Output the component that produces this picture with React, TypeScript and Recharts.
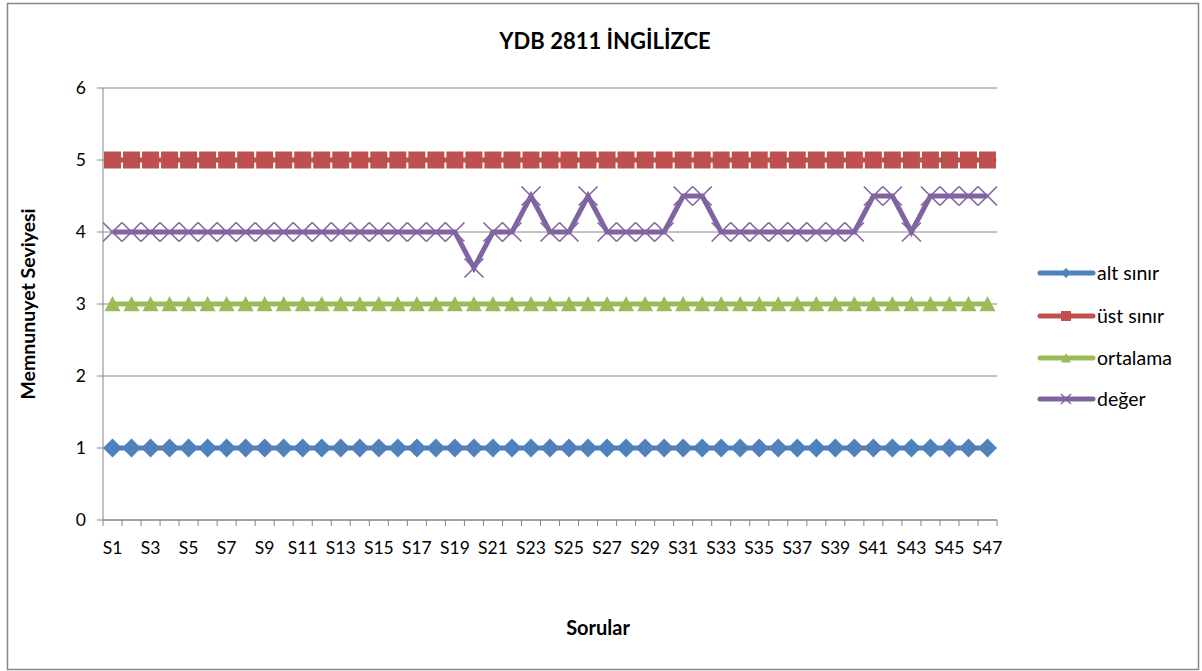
import React from 'react';
import { LineChart, Line, XAxis, YAxis, CartesianGrid } from 'recharts';

const questions = [
  'S1', 'S2', 'S3', 'S4', 'S5', 'S6', 'S7', 'S8', 'S9', 'S10',
  'S11', 'S12', 'S13', 'S14', 'S15', 'S16', 'S17', 'S18', 'S19', 'S20',
  'S21', 'S22', 'S23', 'S24', 'S25', 'S26', 'S27', 'S28', 'S29', 'S30',
  'S31', 'S32', 'S33', 'S34', 'S35', 'S36', 'S37', 'S38', 'S39', 'S40',
  'S41', 'S42', 'S43', 'S44', 'S45', 'S46', 'S47',
];

const altSinir = [
  1, 1, 1, 1, 1, 1, 1, 1, 1, 1, 1, 1, 1, 1, 1, 1, 1, 1, 1, 1, 1, 1, 1, 1,
  1, 1, 1, 1, 1, 1, 1, 1, 1, 1, 1, 1, 1, 1, 1, 1, 1, 1, 1, 1, 1, 1, 1,
];

const ustSinir = [
  5, 5, 5, 5, 5, 5, 5, 5, 5, 5, 5, 5, 5, 5, 5, 5, 5, 5, 5, 5, 5, 5, 5, 5,
  5, 5, 5, 5, 5, 5, 5, 5, 5, 5, 5, 5, 5, 5, 5, 5, 5, 5, 5, 5, 5, 5, 5,
];

const ortalama = [
  3, 3, 3, 3, 3, 3, 3, 3, 3, 3, 3, 3, 3, 3, 3, 3, 3, 3, 3, 3, 3, 3, 3, 3,
  3, 3, 3, 3, 3, 3, 3, 3, 3, 3, 3, 3, 3, 3, 3, 3, 3, 3, 3, 3, 3, 3, 3,
];

const deger = [
  4, 4, 4, 4, 4, 4, 4, 4, 4, 4, 4, 4, 4, 4, 4, 4, 4, 4, 4, 3.5,
  4, 4, 4.5, 4, 4, 4.5, 4, 4, 4, 4,
  4.5, 4.5, 4, 4, 4, 4, 4, 4, 4, 4,
  4.5, 4.5, 4, 4.5, 4.5, 4.5, 4.5,
];

const yTicks = [0, 1, 2, 3, 4, 5, 6];

const BLUE = '#4F81BD';
const RED = '#C0504D';
const GREEN = '#9BBB59';
const PURPLE = '#8064A2';
const AXIS = '#868686';
const FONT = 'Lato, "Open Sans", sans-serif';

const chartData = questions.map((name, i) => ({
  name,
  alt: altSinir[i],
  ust: ustSinir[i],
  ort: ortalama[i],
  deger: deger[i],
}));

const Diamond = ({ cx, cy, r = 9.5 }: any) => (
  <polygon points={`${cx},${cy - r} ${cx + r},${cy} ${cx},${cy + r} ${cx - r},${cy}`} fill={BLUE} />
);
const Square = ({ cx, cy, s = 8.5 }: any) => (
  <rect x={cx - s} y={cy - s} width={s * 2} height={s * 2} fill={RED} />
);
const Triangle = ({ cx, cy, s = 8 }: any) => (
  <polygon points={`${cx},${cy - s} ${cx + s},${cy + s * 0.9} ${cx - s},${cy + s * 0.9}`} fill={GREEN} />
);
const Cross = ({ cx, cy, s = 9.5, w = 1.6 }: any) => (
  <g stroke={PURPLE} strokeWidth={w}>
    <line x1={cx - s} y1={cy - s} x2={cx + s} y2={cy + s} />
    <line x1={cx - s} y1={cy + s} x2={cx + s} y2={cy - s} />
  </g>
);

const XTick = (props: any) => {
  const { x, y, payload, index } = props;
  const i = index ?? payload.index;
  const half = 9.5;
  return (
    <g>
      <line x1={x - half} y1={y} x2={x - half} y2={y + 6} stroke={AXIS} />
      {i === questions.length - 1 && <line x1={x + half} y1={y} x2={x + half} y2={y + 6} stroke={AXIS} />}
      {i % 2 === 0 && (
        <text x={x} y={y + 34} textAnchor="middle" fontSize={17.5} fill="#000" fontFamily={FONT}>
          {payload.value}
        </text>
      )}
    </g>
  );
};

const legendItems = [
  { label: 'alt sınır', color: BLUE, y: 273, mark: (cx: number, cy: number) => <Diamond cx={cx} cy={cy} r={5} /> },
  { label: 'üst sınır', color: RED, y: 316, mark: (cx: number, cy: number) => <Square cx={cx} cy={cy} s={5} /> },
  { label: 'ortalama', color: GREEN, y: 358, mark: (cx: number, cy: number) => <Triangle cx={cx} cy={cy} s={5} /> },
  { label: 'değer', color: PURPLE, y: 399, mark: (cx: number, cy: number) => <Cross cx={cx} cy={cy} s={5} w={1.4} /> },
];

export default function App() {
  return (
    <div style={{ position: 'absolute', left: 0, top: 0, width: 1202, height: 671, background: '#fff', fontFamily: FONT }}>
      <LineChart width={1202} height={671} data={chartData} margin={{ top: 88, right: 205, bottom: 121, left: 73 }}>
        <CartesianGrid horizontal vertical={false} stroke={AXIS} strokeWidth={1} />
        <XAxis
          dataKey="name"
          interval={0}
          height={30}
          padding={{ left: 9.5, right: 9.5 }}
          tickLine={false}
          tickSize={0}
          tickMargin={0}
          axisLine={{ stroke: AXIS }}
          tick={<XTick />}
        />
        <YAxis
          width={30}
          domain={[0, 6]}
          ticks={yTicks}
          interval={0}
          tickSize={6}
          tickMargin={11}
          axisLine={{ stroke: AXIS }}
          tickLine={{ stroke: AXIS }}
          tick={{ fill: '#000', fontSize: 17.5, fontFamily: FONT }}
        />
        <YAxis yAxisId="r" orientation="right" width={0} domain={[0, 6]} tick={false} tickLine={false} axisLine={{ stroke: AXIS }} />
        <Line
          dataKey="alt"
          stroke={BLUE}
          strokeWidth={5}
          isAnimationActive={false}
          dot={(p: any) => <Diamond key={`a-${p.index}`} cx={p.cx} cy={p.cy} />}
        />
        <Line
          dataKey="ust"
          stroke={RED}
          strokeWidth={5}
          isAnimationActive={false}
          dot={(p: any) => <Square key={`u-${p.index}`} cx={p.cx} cy={p.cy} />}
        />
        <Line
          dataKey="ort"
          stroke={GREEN}
          strokeWidth={5}
          isAnimationActive={false}
          dot={(p: any) => <Triangle key={`o-${p.index}`} cx={p.cx} cy={p.cy} />}
        />
        <Line
          dataKey="deger"
          stroke={PURPLE}
          strokeWidth={5}
          isAnimationActive={false}
          dot={(p: any) => <Cross key={`d-${p.index}`} cx={p.cx} cy={p.cy} />}
        />
      </LineChart>
      <svg width={1202} height={671} style={{ position: 'absolute', left: 0, top: 0, pointerEvents: 'none' }}>
        <rect x={7.5} y={3.5} width={1191} height={666} fill="none" stroke={AXIS} strokeWidth={1.5} />
        <text x={605} y={49} textAnchor="middle" fontSize={22} fontWeight="bold" fontFamily={FONT}>
          YDB 2811 İNGİLİZCE
        </text>
        <text x={598} y={635} textAnchor="middle" fontSize={20} fontWeight="bold" fontFamily={FONT}>
          Sorular
        </text>
        <text
          x={35}
          y={304}
          textAnchor="middle"
          fontSize={19.5}
          fontWeight="bold"
          fontFamily={FONT}
          transform="rotate(-90 35 304)"
        >
          Memnunuyet Seviyesi
        </text>
        {legendItems.map((it) => (
          <g key={it.label}>
            <line x1={1040} y1={it.y} x2={1093} y2={it.y} stroke={it.color} strokeWidth={5} strokeLinecap="round" />
            {it.mark(1066, it.y)}
            <text x={1097} y={it.y + 7} fontSize={19.5} fontFamily={FONT} fill="#000">
              {it.label}
            </text>
          </g>
        ))}
      </svg>
    </div>
  );
}
